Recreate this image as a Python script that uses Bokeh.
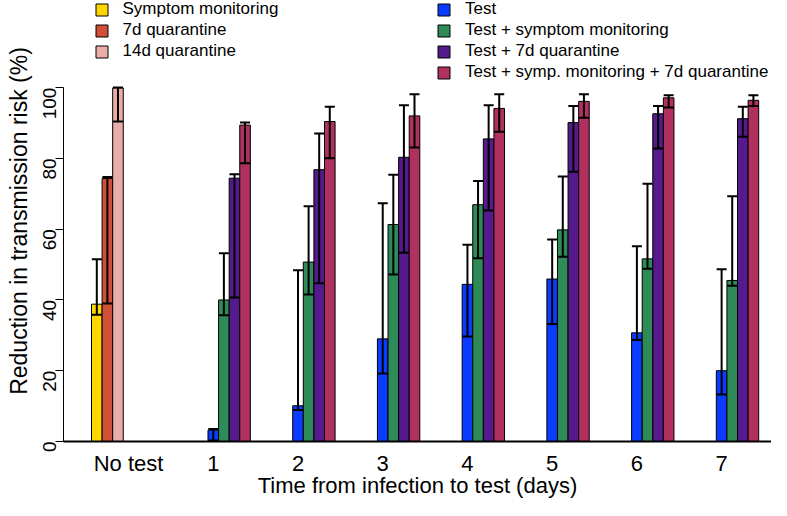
import math
from bokeh.plotting import figure
from bokeh.models import (ColumnDataSource, Whisker, TeeHead, FixedTicker,
                          Legend, LegendItem)
from bokeh.core.properties import value
from bokeh.embed import file_html
from bokeh.resources import INLINE

# ---------------- data ----------------
group_labels = ["No test", "1", "2", "3", "4", "5", "6", "7"]

baseline_names = ["Symptom monitoring", "7d quarantine", "14d quarantine"]
baseline_colors = ["#FFD700", "#D1503A", "#EBAEA7"]
baseline_values = [38.8, 74.3, 99.9]
baseline_lower = [35.8, 39.0, 90.4]
baseline_upper = [51.5, 74.7, 100.0]

test_names = ["Test", "Test + symptom monitoring", "Test + 7d quarantine",
              "Test + symp. monitoring + 7d quarantine"]
test_colors = ["#0A3CFF", "#2E8B57", "#551A8B", "#B03060"]

test_values = [3.2, 10.1, 29.0, 44.4, 45.9, 30.7, 20.0]
test_lower = [0.3, 8.9, 19.2, 29.7, 33.2, 28.7, 13.3]
test_upper = [3.5, 48.4, 67.3, 55.6, 57.1, 55.2, 48.7]

symp_values = [40.0, 50.7, 61.3, 66.9, 59.8, 51.6, 45.5]
symp_lower = [35.7, 41.5, 47.2, 51.8, 52.2, 48.8, 44.0]
symp_upper = [53.2, 66.5, 75.4, 73.6, 74.9, 72.8, 69.3]

quar_values = [74.4, 76.8, 80.3, 85.5, 90.1, 92.6, 91.2]
quar_lower = [40.7, 44.7, 53.3, 65.3, 76.2, 82.8, 86.1]
quar_upper = [75.5, 87.0, 95.0, 95.0, 94.8, 94.8, 94.6]

all_values = [89.4, 90.4, 92.0, 94.1, 96.1, 97.1, 96.4]
all_lower = [78.6, 80.0, 83.1, 87.5, 91.5, 94.4, 94.8]
all_upper = [90.1, 94.6, 98.1, 98.1, 98.1, 97.8, 97.8]

y_ticks = [0, 20, 40, 60, 80, 100]

test_series = [
    (test_values, test_lower, test_upper),
    (symp_values, symp_lower, symp_upper),
    (quar_values, quar_lower, quar_upper),
    (all_values, all_lower, all_upper),
]

# ---------------- layout in bar slots ----------------
n_groups = len(test_values)
first_group_start = 11
group_step = 8

FONT = "Liberation Sans"
FRAME_H = 441

p = figure(width=771, height=500, x_range=(-2.644, 64.21), y_range=(0, 124.6),
           output_backend="svg", toolbar_location=None,
           min_border_left=63, min_border_right=0, min_border_top=0,
           min_border_bottom=500 - FRAME_H)
p.xgrid.visible = False
p.ygrid.visible = False
p.outline_line_color = None
p.background_fill_color = "white"
p.border_fill_color = "white"


def add_errorbars(xs, lo, hi):
    src = ColumnDataSource(dict(x=xs, lo=lo, hi=hi))
    w = Whisker(source=src, base="x", lower="lo", upper="hi",
                line_color="black", line_width=2, level="annotation",
                upper_head=TeeHead(size=10, line_color="black", line_width=2),
                lower_head=TeeHead(size=10, line_color="black", line_width=2))
    p.add_layout(w)


left_items = []
for j, (name, col) in enumerate(zip(baseline_names, baseline_colors)):
    src = ColumnDataSource(dict(x=[j + 0.5], top=[baseline_values[j]]))
    r = p.vbar(x="x", top="top", bottom=0, width=1.0, source=src,
               fill_color=col, line_color="black", line_width=1)
    left_items.append(LegendItem(label=value(name), renderers=[r]))
    add_errorbars([j + 0.5], [baseline_lower[j]], [baseline_upper[j]])

right_items = []
for s, (name, col) in enumerate(zip(test_names, test_colors)):
    vals, lo, hi = test_series[s]
    xs = [first_group_start + group_step * g + s + 0.5 for g in range(n_groups)]
    src = ColumnDataSource(dict(x=xs, top=vals))
    r = p.vbar(x="x", top="top", bottom=0, width=1.0, source=src,
               fill_color=col, line_color="black", line_width=1)
    right_items.append(LegendItem(label=value(name), renderers=[r]))
    add_errorbars(xs, lo, hi)

# ---------------- axes ----------------
tick_pos = [3.5] + [first_group_start + group_step * g + 0.5 for g in range(n_groups)]
xa = p.xaxis[0]
xa.ticker = FixedTicker(ticks=tick_pos, minor_ticks=[])
xa.major_label_overrides = {t: lab for t, lab in zip(tick_pos, group_labels)}
xa.major_tick_out = 0
xa.major_tick_in = 0
xa.minor_tick_out = 0
xa.axis_line_width = 2
xa.axis_line_color = "black"
xa.major_label_standoff = 9
xa.major_label_text_font = FONT
xa.major_label_text_font_size = "22px"
xa.major_label_text_color = "black"
xa.axis_label = "Time from infection to test (days)"
xa.axis_label_text_font = FONT
xa.axis_label_text_font_size = "22px"
xa.axis_label_text_font_style = "normal"
xa.axis_label_text_color = "black"
xa.axis_label_standoff = -6

ya = p.yaxis[0]
ya.ticker = FixedTicker(ticks=y_ticks, minor_ticks=[])
ya.bounds = (0, 100)
ya.major_tick_out = 8
ya.major_tick_in = 0
ya.minor_tick_out = 0
ya.axis_line_color = "black"
ya.axis_line_width = 1
ya.major_tick_line_color = "black"
ya.major_tick_line_width = 1
ya.major_label_orientation = math.pi / 2
ya.major_label_standoff = 6
ya.major_label_text_font = FONT
ya.major_label_text_font_size = "19px"
ya.major_label_text_color = "black"
ya.axis_label = "Reduction in transmission risk (%)"
ya.axis_label_text_font = FONT
ya.axis_label_text_font_size = "23px"
ya.axis_label_text_font_style = "normal"
ya.axis_label_text_color = "black"
ya.axis_label_standoff = 2

# ---------------- legends ----------------
common = dict(orientation="vertical", padding=0, margin=0, spacing=1,
              label_height=20, glyph_height=15, glyph_width=15,
              label_standoff=14, label_text_font=FONT,
              label_text_font_size="17px", label_text_color="black",
              background_fill_alpha=0, border_line_alpha=0)
leg_left = Legend(items=left_items, location=(30.5, FRAME_H + 1 - 62), **common)
leg_right = Legend(items=right_items, location=(373, FRAME_H + 1 - 83), **common)
p.add_layout(leg_left)
p.add_layout(leg_right)

open("out.html", "w").write(file_html(p, INLINE))
